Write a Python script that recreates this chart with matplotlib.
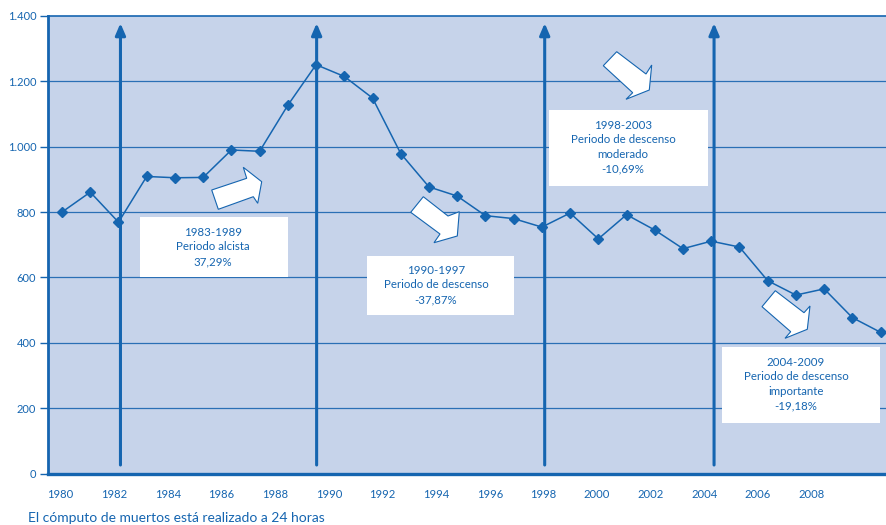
import matplotlib
matplotlib.use("Agg")
import matplotlib.pyplot as plt
from matplotlib.patches import Polygon, Rectangle
from matplotlib.transforms import IdentityTransform

plt.rcParams["font.family"] = ["Lato", "DejaVu Sans"]

# Road deaths per year (24-hour count)
years = list(range(1980, 2010))
deaths = [800, 861, 769, 909, 905, 906, 990, 986, 1127, 1251,
          1215, 1149, 979, 877, 849, 789, 780, 754, 797, 718,
          792, 745, 688, 711, 693, 590, 546, 565, 477, 432]

tick_labels = [str(y) for y in range(1980, 2010, 2)]
y_ticks = [0, 200, 400, 600, 800, 1000, 1200, 1400]
y_tick_labels = ["0", "200", "400", "600", "800", "1.000", "1.200", "1.400"]

# Period boundaries marked with vertical arrows
boundary_years = [1982.07, 1989.02, 1997.1, 2003.1]

periods = [
    "1983-1989\nPeriodo alcista\n37,29%",
    "1990-1997\nPeriodo de descenso\n-37,87%",
    "1998-2003\nPeriodo de descenso\nmoderado\n-10,69%",
    "2004-2009\nPeriodo de descenso\nimportante\n-19,18%",
]
footnote = "El cómputo de muertos está realizado a 24 horas"

BLUE = "#1565b0"
GRID = "#2a6fb5"
BG = "#c6d3ea"

W, H = 887, 525
fig = plt.figure(figsize=(W / 100, H / 100), dpi=100)
ax = fig.add_axes([48 / W, (H - 473.5) / H, (W - 48) / W + 0.002, 457.5 / H])
ax.set_facecolor(BG)

ax.set_xlim(1979.503, 2009.29)
ax.set_ylim(0, 1400)

ax.set_yticks(y_ticks)
ax.set_yticklabels(y_tick_labels)
tick_step = 1.9006
ax.set_xticks([1979.95 + tick_step * i for i in range(len(tick_labels))])
ax.set_xticklabels(tick_labels)
ax.tick_params(axis="x", length=0, pad=11, labelsize=8.1, labelcolor=BLUE)
ax.tick_params(axis="y", length=6, width=1, color=BLUE, pad=2.5,
               labelsize=8.0, labelcolor=BLUE)

for y in y_ticks[1:-1]:
    ax.axhline(y, color=GRID, lw=0.9, zorder=1)

ax.spines["right"].set_visible(False)
ax.spines["left"].set_color(BLUE)
ax.spines["left"].set_linewidth(2.0)
ax.spines["bottom"].set_color(BLUE)
ax.spines["bottom"].set_linewidth(2.4)
ax.spines["top"].set_color(BLUE)
ax.spines["top"].set_linewidth(1.2)

# Vertical period arrows
for bx in boundary_years:
    ax.annotate("", xy=(bx, 1378), xytext=(bx, 26),
                arrowprops=dict(arrowstyle="-|>,head_length=0.7,head_width=0.3",
                                color=BLUE, lw=2.2, shrinkA=0, shrinkB=0),
                zorder=3)

# Data line
ax.plot(years, deaths, color=BLUE, lw=1.1, marker="D", markersize=5,
        markerfacecolor=BLUE, markeredgecolor=BLUE, zorder=5)


def disp(x, y):
    return (x, H - y)


# Text boxes (pixel layout): box extent and text centre
box_extents = [(140, 217, 288, 277), (367, 256, 514, 315),
               (549, 110, 708, 186), (722, 347, 880, 423)]
text_centres = [(213, 247), (436, 285), (623, 147), (796, 384)]
for (x0, y0, x1, y1), (cx, cy), label in zip(box_extents, text_centres, periods):
    rect = Rectangle(disp(x0, y1), x1 - x0, y1 - y0, transform=IdentityTransform(),
                     facecolor="white", edgecolor="none", zorder=6)
    fig.add_artist(rect)
    fig.text(cx / W, 1 - cy / H, label, ha="center", va="center", fontsize=8.3,
             color=BLUE, linespacing=1.4, zorder=7)

# Block arrows showing trend direction (pixel layout)
block_arrows = [
    [(218.3, 209.3), (211.7, 190), (246.7, 178.3), (243.3, 167.3),
     (261.7, 181.7), (257.7, 203.3), (253.3, 196.7)],
    [(410.7, 212.3), (423.3, 196.7), (448, 216), (459.3, 211.7),
     (457.3, 236), (434, 242.7), (440, 234)],
    [(603.3, 65.7), (616.7, 51.7), (646, 74), (651.7, 65),
     (649.3, 90), (626, 99.3), (632.7, 92.7)],
    [(762, 306.7), (775.3, 290.7), (804, 312.7), (810, 306),
     (807.3, 329.3), (785, 338.3), (790.7, 331.7)],
]
for pts in block_arrows:
    poly = Polygon([disp(x, y) for x, y in pts], closed=True,
                   transform=IdentityTransform(), facecolor="white",
                   edgecolor=BLUE, lw=0.8, zorder=6)
    fig.add_artist(poly)

fig.text(28 / W, 1 - 518 / H, footnote, ha="left", va="center", fontsize=10,
         color=BLUE)

fig.savefig("out.png", dpi=100)
